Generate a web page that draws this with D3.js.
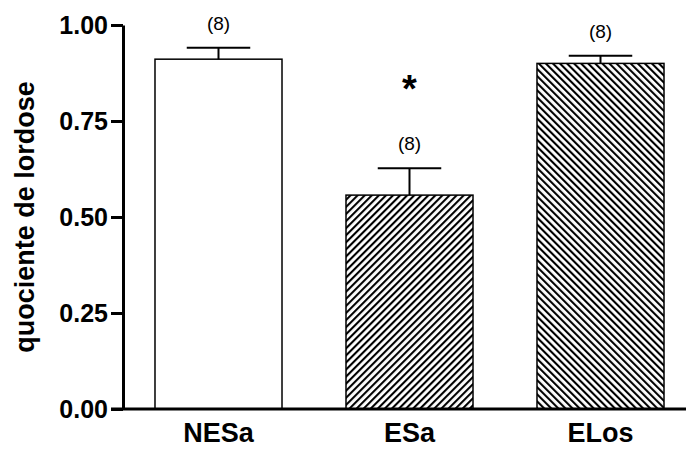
<!DOCTYPE html>
<html>
<head>
<meta charset="utf-8">
<script src="https://cdn.jsdelivr.net/npm/d3@7"></script>
<style>
  html, body { margin: 0; padding: 0; background: #fff; }
  svg { display: block; font-family: "Liberation Sans", Arial, sans-serif; }
</style>
</head>
<body>
<svg id="chart" width="686" height="450"></svg>
<script>
// data
const categories = ["NESa", "ESa", "ELos"]
const means = [0.911, 0.557, 0.900]
const sems = [0.030, 0.070, 0.020]
const nLabels = ["(8)", "(8)", "(8)"]
const marks = ["", "*", ""]
const tickValues = [0, 0.25, 0.5, 0.75, 1.0]
const yLabel = "quociente de lordose"

let svg = d3.select('#chart')

let plotLeft = 123, plotRight = 696, plotTop = 25, plotBottom = 409

let x = d3.scaleBand().domain(categories).range([plotLeft, plotRight])
    .paddingInner(0.335).paddingOuter(0.1675)
let y = d3.scaleLinear().domain([0, 1]).range([plotBottom, plotTop])

/* -------------- PATTERNS -------------- */

let defs = svg.append('defs')
function hatch(id, angle) {
    let p = defs.append('pattern')
        .attr('id', id)
        .attr('patternUnits', 'userSpaceOnUse')
        .attr('width', 5)
        .attr('height', 10)
        .attr('patternTransform', 'rotate(' + angle + ')')
    p.append('rect').attr('width', 5).attr('height', 10).attr('fill', '#fff')
    p.append('line')
        .attr('x1', 1).attr('y1', 0).attr('x2', 1).attr('y2', 10)
        .attr('stroke', '#000').attr('stroke-width', 2.2)
}
hatch('fwd', 45)
hatch('back', -45)
let fills = { NESa: '#fff', ESa: 'url(#fwd)', ELos: 'url(#back)' }

let data = categories.map(function (c, i) {
    return { cat: c, mean: means[i], sem: sems[i], n: nLabels[i], mark: marks[i] }
})

/* -------------- BARS -------------- */

svg.selectAll('.bar')
    .data(data)
    .enter().append('rect')
    .attr('class', 'bar')
    .attr('x', function (d) { return x(d.cat) })
    .attr('y', function (d) { return y(d.mean) })
    .attr('width', x.bandwidth())
    .attr('height', function (d) { return y(0) - y(d.mean) })
    .attr('fill', function (d) { return fills[d.cat] })
    .attr('stroke', '#000')
    .attr('stroke-width', 1.5)

// error bars (upper only)
let err = svg.selectAll('.err').data(data).enter().append('g').attr('class', 'err')
err.append('line')
    .attr('x1', function (d) { return x(d.cat) + x.bandwidth() / 2 })
    .attr('x2', function (d) { return x(d.cat) + x.bandwidth() / 2 })
    .attr('y1', function (d) { return y(d.mean) })
    .attr('y2', function (d) { return y(d.mean + d.sem) })
    .attr('stroke', '#000').attr('stroke-width', 2)
err.append('line')
    .attr('x1', function (d) { return x(d.cat) + x.bandwidth() / 4 })
    .attr('x2', function (d) { return x(d.cat) + x.bandwidth() * 3 / 4 })
    .attr('y1', function (d) { return y(d.mean + d.sem) })
    .attr('y2', function (d) { return y(d.mean + d.sem) })
    .attr('stroke', '#000').attr('stroke-width', 2)

svg.selectAll('.nlab')
    .data(data)
    .enter().append('text')
    .attr('class', 'nlab')
    .attr('x', function (d) { return x(d.cat) + x.bandwidth() / 2 })
    .attr('y', function (d) { return y(d.mean + d.sem) - 18 })
    .attr('text-anchor', 'middle')
    .attr('font-size', 19)
    .text(function (d) { return d.n })

svg.selectAll('.mark')
    .data(data.filter(function (d) { return d.mark }))
    .enter().append('text')
    .attr('class', 'mark')
    .attr('x', function (d) { return x(d.cat) + x.bandwidth() / 2 })
    .attr('y', function (d) { return y(d.mean + d.sem) - 66 })
    .attr('text-anchor', 'middle')
    .attr('font-size', 38)
    .attr('font-weight', 'bold')
    .text(function (d) { return d.mark })

/* -------------- AXES -------------- */

let yAxis = svg.append('g')
    .attr('transform', 'translate(' + plotLeft + ',0)')
    .call(d3.axisLeft(y).tickValues(tickValues).tickFormat(d3.format('.2f'))
        .tickSize(12).tickSizeOuter(0).tickPadding(3))
yAxis.select('.domain').attr('stroke-width', 3)
yAxis.selectAll('.tick line').attr('stroke-width', 3)
yAxis.selectAll('.tick text')
    .attr('font-size', 25).attr('font-weight', 'bold')
    .attr('font-family', '"Liberation Sans", Arial, sans-serif')
    .attr('fill', '#000')

let xAxis = svg.append('g')
    .attr('transform', 'translate(0,' + plotBottom + ')')
    .call(d3.axisBottom(x).tickSize(0).tickPadding(14))
xAxis.select('.domain').remove()
xAxis.selectAll('.tick text')
    .attr('font-size', 27).attr('font-weight', 'bold')
    .attr('font-family', '"Liberation Sans", Arial, sans-serif')
    .attr('fill', '#000')
svg.append('line')
    .attr('x1', plotLeft - 12).attr('x2', 686)
    .attr('y1', plotBottom).attr('y2', plotBottom)
    .attr('stroke', '#000').attr('stroke-width', 3)

svg.append('text')
    .attr('transform', 'translate(34,' + (plotTop + plotBottom) / 2 + ') rotate(-90)')
    .attr('text-anchor', 'middle')
    .attr('font-size', 27)
    .attr('font-weight', 'bold')
    .text(yLabel)
</script>
</body>
</html>
